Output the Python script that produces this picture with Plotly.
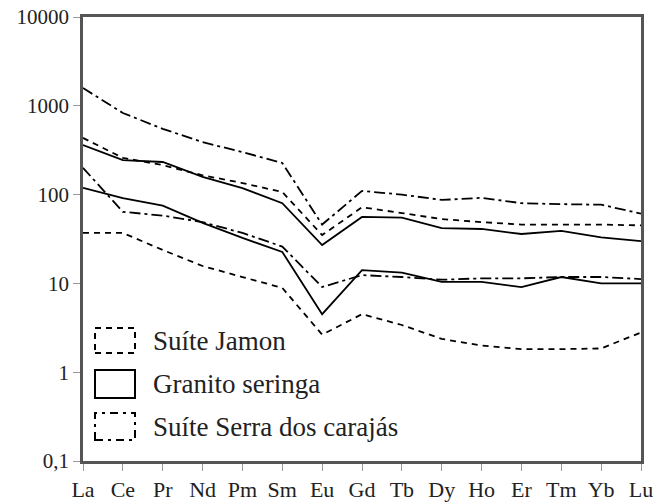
import plotly.graph_objects as go

elements = ["La", "Ce", "Pr", "Nd", "Pm", "Sm", "Eu", "Gd", "Tb", "Dy", "Ho", "Er", "Tm", "Yb", "Lu"]

# Suíte Jamon (dashed envelope)
jamon_upper = [435, 259, 215, 165, 135, 107, 35, 72, 62, 53, 49, 46, 46, 46, 45]
jamon_lower = [37, 37, 23.8, 15.7, 11.8, 8.9, 2.65, 4.5, 3.4, 2.37, 2.0, 1.82, 1.82, 1.85, 2.8]

# Granito seringa (solid envelope)
seringa_upper = [362, 245, 233, 158, 118, 80, 27, 56, 55, 42, 41, 36, 39, 33, 30]
seringa_lower = [119, 91, 75, 48, 32.5, 22.6, 4.5, 14.1, 13.2, 10.4, 10.4, 9.1, 11.8, 10, 10]

# Suíte Serra dos carajás (dash-dot envelope)
carajas_upper = [1585, 830, 550, 390, 301, 227, 46, 110, 100, 87, 92, 80, 78, 77, 61]
carajas_lower = [200, 64, 58, 49, 37, 26, 9.1, 12.4, 11.8, 11, 11.4, 11.4, 11.8, 11.8, 11.2]

y_tickvals = [0.1, 1, 10, 100, 1000, 10000]
y_ticktext = ["0,1", "1", "10", "100", "1000", "10000"]

legend_labels = ["Suíte Jamon", "Granito seringa", "Suíte Serra dos carajás"]

DASH = "6px,5px"
DASHDOT = "11px,4px,3px,4px"

FONT = "Liberation Serif, Times New Roman, serif"

FIG_W, FIG_H = 657, 504

fig = go.Figure()

series = [
    (jamon_upper, DASH), (jamon_lower, DASH),
    (seringa_upper, "solid"), (seringa_lower, "solid"),
    (carajas_upper, DASHDOT), (carajas_lower, DASHDOT),
]
for vals, dash in series:
    fig.add_trace(go.Scatter(
        x=elements, y=vals, mode="lines",
        line=dict(color="black", width=1.8, dash=dash),
        showlegend=False, hoverinfo="skip",
    ))

# target plot box in page pixels
plot_l, plot_r, plot_t, plot_b = 83, 641, 17, 461
W = plot_r - plot_l
H = plot_b - plot_t
def px(x):
    return (x - plot_l) / W
def py(y):
    return (plot_b - y) / H

boxes = [(328, 353, DASH, legend_labels[0]), (370, 398, "solid", legend_labels[1]), (413, 440, DASHDOT, legend_labels[2])]
for top, bot, dash, label in boxes:
    fig.add_shape(type="rect", xref="paper", yref="paper",
                  x0=px(95), x1=px(135), y0=py(bot), y1=py(top),
                  line=dict(color="black", width=2, dash=dash if dash != DASHDOT else "8px,5px,3px,5px"))
    fig.add_annotation(xref="paper", yref="paper", x=px(151), y=py((top + bot) / 2),
                       text=label, showarrow=False, xanchor="left", yanchor="middle",
                       font=dict(family=FONT, size=27, color="#222"))

fig.update_layout(
    width=FIG_W, height=FIG_H,
    margin=dict(l=plot_l, r=FIG_W - plot_r, t=plot_t, b=FIG_H - plot_b, pad=0),
    paper_bgcolor="white", plot_bgcolor="white",
    font=dict(family=FONT, color="#222"),
)
fig.update_xaxes(
    type="category", range=[0, 14], automargin=False,
    showline=True, linecolor="#555", linewidth=2.5, mirror=True,
    showgrid=False, zeroline=False,
    ticks="outside", ticklen=7, tickcolor="#999", tickwidth=1,
    tickfont=dict(family=FONT, size=22, color="#222"),
    ticklabeloverflow="allow",
)
fig.update_yaxes(
    type="log", range=[-1, 4], automargin=False,
    showline=True, linecolor="#555", linewidth=2.5, mirror=True,
    tickvals=y_tickvals, ticktext=y_ticktext,
    showgrid=False, zeroline=False,
    ticks="outside", ticklen=7, tickcolor="#999", tickwidth=1,
    tickfont=dict(family=FONT, size=21, color="#222"),
    ticklabeloverflow="allow",
)

fig.write_html("out.html", config={"displayModeBar": False},
               post_script="document.body.style.margin='0';")
